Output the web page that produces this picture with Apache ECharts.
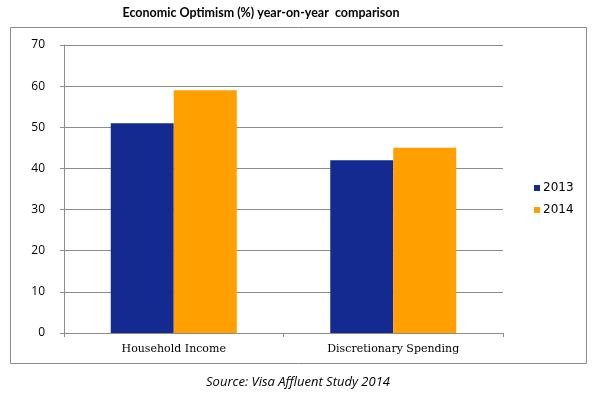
<!DOCTYPE html>
<html><head><meta charset="utf-8">
<script src="https://cdn.jsdelivr.net/npm/echarts@6/dist/echarts.min.js"></script>
<style>html,body{margin:0;padding:0;background:#fff}#c{width:596px;height:393px}</style>
</head><body><div id="c"></div>
<script>
const categories = ['Household Income', 'Discretionary Spending'];
const values2013 = [51, 42];
const values2014 = [59, 45];
const seriesNames = ['2013', '2014'];
const yTicks = [0, 10, 20, 30, 40, 50, 60, 70];

const chart = echarts.init(document.getElementById('c'));
chart.setOption({
  animation: false,
  graphic: [{
    type: 'rect', shape: {x: 10.5, y: 27.5, width: 576, height: 336},
    style: {fill: 'none', stroke: '#8c8c8c', lineWidth: 1}, silent: true, z: -1
  }, {
    type: 'text',
    style: {text: 'Economic Optimism (%) year-on-year  comparison', font: 'bold 12.5px Lato', fill: '#000', x: 261, y: 13, textAlign: 'center', textVerticalAlign: 'middle'}
  }, {
    type: 'text',
    style: {text: 'Source: Visa Affluent Study 2014', font: 'italic 13px "Open Sans"', fill: '#000', x: 298, y: 382, textAlign: 'center', textVerticalAlign: 'middle'}
  }],
  legend: {
    orient: 'vertical', left: 529, top: 177, itemWidth: 6, itemHeight: 6, itemGap: 10,
    icon: 'rect', data: seriesNames,
    textStyle: {fontFamily: 'DejaVu Sans', fontSize: 12, color: '#000', padding: [0,0,0,-2]}
  },
  grid: {left: 64, right: 93, top: 45, bottom: 60, containLabel: false},
  xAxis: {
    type: 'category', data: categories,
    axisLine: {lineStyle: {color: '#8c8c8c'}},
    axisTick: {show: true, length: 4, lineStyle: {color: '#8c8c8c'}},
    axisLabel: {fontFamily: 'DejaVu Serif', fontSize: 11, color: '#000', margin: 11}
  },
  yAxis: {
    type: 'value', min: yTicks[0], max: yTicks[yTicks.length-1], interval: 10,
    axisLine: {show: true, lineStyle: {color: '#8c8c8c'}},
    axisTick: {show: true, length: 4, lineStyle: {color: '#8c8c8c'}},
    splitLine: {lineStyle: {color: '#8c8c8c'}},
    axisLabel: {fontFamily: 'Open Sans', fontSize: 12, color: '#000', margin: 19}
  },
  series: [{
    name: seriesNames[0], type: 'bar', data: values2013, barWidth: 63, barGap: '0%',
    itemStyle: {color: '#152a91'}
  }, {
    name: seriesNames[1], type: 'bar', data: values2014, barWidth: 63, barGap: '0%',
    itemStyle: {color: '#ff9f00'}
  }]
});
</script></body></html>
